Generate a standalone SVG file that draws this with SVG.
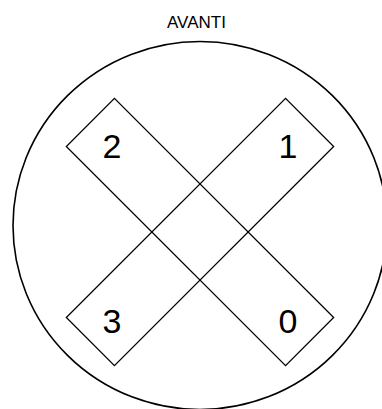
<svg xmlns="http://www.w3.org/2000/svg" width="382" height="409" viewBox="0 0 382 409">
<style>
.shape{fill:none;stroke:#000;stroke-width:1.3}
.rim{fill:none;stroke:#000;stroke-width:1.6}
.num{font-family:"Liberation Sans",Arial,sans-serif;font-size:34px;fill:#000;text-anchor:middle}
.title{font-family:"Liberation Sans",Arial,sans-serif;font-size:17px;fill:#000;text-anchor:middle}
</style>
<rect width="382" height="409" fill="#fff"/>
<g id="title"><text class="title" x="196.5" y="28.3">AVANTI</text></g>
<g id="circle"><ellipse class="rim" cx="200" cy="225.5" rx="187" ry="184"/></g>
<g id="bar-2-0"><rect class="shape" x="-155" y="-34" width="310" height="68" transform="translate(200,232) rotate(45)"/></g>
<g id="bar-1-3"><rect class="shape" x="-155" y="-34" width="310" height="68" transform="translate(200,232) rotate(-45)"/></g>
<g id="label-2"><text class="num" x="112" y="158">2</text></g>
<g id="label-1"><text class="num" x="288" y="158">1</text></g>
<g id="label-3"><text class="num" x="112" y="333">3</text></g>
<g id="label-0"><text class="num" x="288" y="333">0</text></g>
</svg>
